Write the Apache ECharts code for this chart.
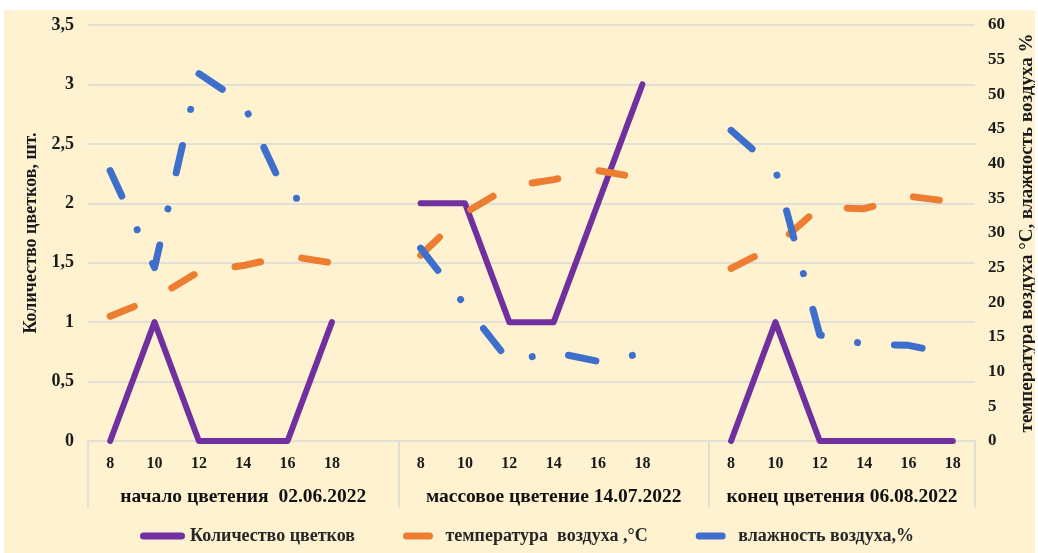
<!DOCTYPE html>
<html>
<head>
<meta charset="utf-8">
<script src="https://cdn.jsdelivr.net/npm/echarts@6/dist/echarts.min.js"></script>
<style>
  html, body { margin: 0; padding: 0; background: #fff; }
  #chart { position: absolute; left: 4px; top: 10px; width: 1031px; height: 543px; }
</style>
</head>
<body>
<div id="chart"></div>
<script>
// hours of observation, repeated for each flowering phase
const hours = ['8', '10', '12', '14', '16', '18'];
const phaseLabels = ['начало цветения  02.06.2022', 'массовое цветение 14.07.2022', 'конец цветения 06.08.2022'];
const seriesNames = ['Количество цветков', 'температура  воздуха ,°С', 'влажность воздуха,%'];

// flowers count, pcs (left axis)
const flowersStart = [0, 1, 0, 0, 0, 1];
const flowersMass = [2, 2, 1, 1, 2, 3];
const flowersEnd = [0, 1, 0, 0, 0, 0];

// air temperature, °C (right axis)
const tempStart = [18, 20.6, 24.4, 25.3, 26.7, 25.7];
const tempMass = [26.8, 32.9, 36.7, 37.7, 39, 37.9];
const tempEnd = [24.9, 28.1, 33.7, 33.5, 35.3, 34.5];

// air humidity, % (right axis)
const humStart = [39, 25, 53, 48.7, 35, 35];
const humMass = [27.8, 19.6, 11.5, 12.8, 11.5, 12.6];
const humEnd = [44.8, 39.2, 15.3, 14, 13.8, 12.5];

// three phases on one category axis, an empty slot between them breaks the lines
const categories = [...hours, '', ...hours, '', ...hours];
const joinPhases = (a, b, c) => [...a, '-', ...b, '-', ...c];

const textColor = '#1b1b1b';
const gridColor = '#e2e0d6';
const font = "'Liberation Serif', 'Times New Roman', serif";

// legend icons: a long solid bar and a single short dash
const barIcon = 'path://M3.5,0 H41.5 A3.5,3.5 0 0 1 41.5,7 H3.5 A3.5,3.5 0 0 1 3.5,0 Z';
const dashIcon = 'path://M3.5,0 H26.5 A3.5,3.5 0 0 1 26.5,7 H3.5 A3.5,3.5 0 0 1 3.5,0 Z';

const chart = echarts.init(document.getElementById('chart'));

const lineSeries = (name, data, color, yAxisIndex, dash, width) => ({
  name: name,
  type: 'line',
  data: data,
  yAxisIndex: yAxisIndex,
  symbol: 'none',
  connectNulls: false,
  lineStyle: { color: color, width: width, type: dash, cap: 'round', join: 'round' },
  itemStyle: { color: color },
});

chart.setOption({
  animation: false,
  backgroundColor: '#fef2d0',
  textStyle: { fontFamily: font, fontWeight: 'bold', color: textColor },
  grid: { left: 84, right: 60, top: 15, bottom: 112, outerBoundsMode: 'none', containLabel: false },
  legend: {
    left: 131,
    top: 512,
    itemWidth: 45,
    itemHeight: 7,
    itemGap: 48,
    data: [
      { name: seriesNames[0], icon: barIcon },
      { name: seriesNames[1], icon: dashIcon },
      { name: seriesNames[2], icon: dashIcon },
    ],
    textStyle: { fontFamily: font, fontWeight: 'bold', fontSize: 18, color: '#262626' },
  },
  xAxis: [
    {
      type: 'category',
      data: categories,
      boundaryGap: true,
      axisLine: { lineStyle: { color: gridColor, width: 2 } },
      axisTick: { show: false },
      axisLabel: { interval: 0, margin: 15, fontSize: 16, fontWeight: 'bold', fontFamily: font, color: textColor },
    },
    {
      type: 'value',
      position: 'bottom',
      min: 0,
      max: 20,
      axisLine: { show: false },
      splitLine: { show: false },
      axisTick: {
        show: true,
        customValues: [0, 7, 14, 20],
        length: 67,
        lineStyle: { color: gridColor, width: 2 },
      },
      axisLabel: {
        customValues: [3.5, 10.5, 17],
        margin: 46,
        fontSize: 19.5,
        fontWeight: 'bold',
        fontFamily: font,
        color: '#111',
        formatter: (v) => phaseLabels[[3.5, 10.5, 17].indexOf(v)] || '',
      },
    },
  ],
  yAxis: [
    {
      type: 'value',
      min: 0,
      max: 3.5,
      interval: 0.5,
      name: 'Количество цветков, шт.',
      nameLocation: 'middle',
      nameRotate: 90,
      nameGap: 48,
      nameTextStyle: { fontFamily: font, fontWeight: 'bold', fontSize: 18, color: textColor },
      axisLine: { show: false },
      axisTick: { show: false },
      axisLabel: {
        margin: 14,
        fontSize: 18,
        fontWeight: 'bold',
        fontFamily: font,
        color: textColor,
        formatter: (v) => String(v).replace('.', ','),
      },
      splitLine: { lineStyle: { color: gridColor, width: 2 } },
    },
    {
      type: 'value',
      min: 0,
      max: 60,
      interval: 5,
      position: 'right',
      name: 'температура воздуха °С, влажность воздуха %',
      nameLocation: 'middle',
      nameRotate: 90,
      nameGap: 43,
      nameTextStyle: { fontFamily: font, fontWeight: 'bold', fontSize: 19, color: textColor },
      axisLine: { show: false },
      axisTick: { show: false },
      axisLabel: { margin: 13, fontSize: 17, fontWeight: 'bold', fontFamily: font, color: textColor },
      splitLine: { show: false },
    },
  ],
  series: [
    lineSeries(seriesNames[0], joinPhases(flowersStart, flowersMass, flowersEnd), '#7030a0', 0, 'solid', 6),
    lineSeries(seriesNames[1], joinPhases(tempStart, tempMass, tempEnd), '#ed7d31', 1, [26, 42], 7),
    lineSeries(seriesNames[2], joinPhases(humStart, humMass, humEnd), '#3f6fcc', 1, [28, 37, 0.01, 37], 7),
  ],
});
</script>
</body>
</html>
